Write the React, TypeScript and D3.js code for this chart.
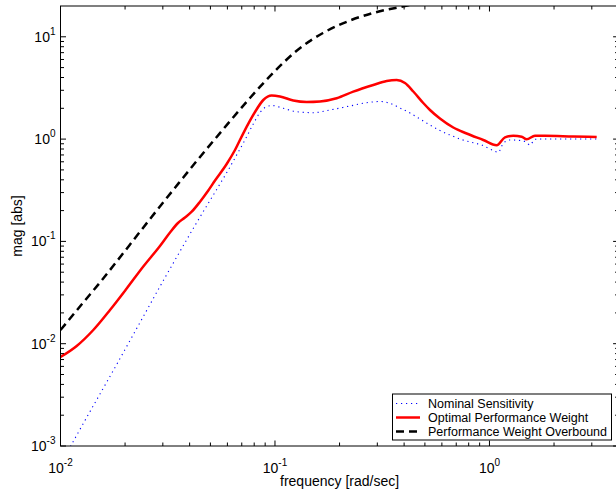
import React from 'react';
import * as d3 from 'd3';

// ---- data ----
const overboundFreq = [0.01, 0.01277, 0.01528, 0.01828, 0.02265, 0.02614, 0.03127, 0.03737, 0.04315, 0.05722, 0.07644, 0.1, 0.1266, 0.1674, 0.2237, 0.2863, 0.3827, 0.528, 0.7];
const overboundMag = [0.01361, 0.02527, 0.03964, 0.0636, 0.1129, 0.1656, 0.2656, 0.4213, 0.6108, 1.241, 2.522, 4.631, 7.347, 10.89, 14.43, 17.08, 19.56, 22.14, 23.5];

const optimalFreq = [0.01, 0.0119, 0.01422, 0.01701, 0.02035, 0.02432, 0.02909, 0.0324, 0.0353, 0.03805, 0.0409, 0.04472, 0.04887, 0.05253, 0.05954, 0.06509, 0.07114, 0.0807, 0.08821, 0.09652, 0.1055, 0.1217, 0.1405, 0.1621, 0.1939, 0.2317, 0.2872, 0.3317, 0.3693, 0.4037, 0.4414, 0.4913, 0.528, 0.5875, 0.6781, 0.7828, 0.9357, 1.08, 1.181, 1.291, 1.413, 1.491, 1.63, 1.814, 2.459, 3.162];
const optimalMag = [0.00741, 0.0095, 0.01361, 0.02135, 0.03464, 0.05683, 0.0902, 0.1222, 0.1513, 0.1713, 0.1951, 0.2444, 0.3145, 0.3937, 0.5709, 0.7824, 1.139, 1.84, 2.411, 2.668, 2.609, 2.384, 2.305, 2.331, 2.505, 2.907, 3.38, 3.698, 3.782, 3.535, 2.92, 2.254, 1.925, 1.59, 1.298, 1.134, 0.98, 0.8698, 1.041, 1.079, 1.056, 0.995, 1.079, 1.079, 1.06, 1.048];

const nominalFreq = [0.01, 0.01116, 0.013, 0.01528, 0.01795, 0.02109, 0.02477, 0.02909, 0.0342, 0.04016, 0.04472, 0.04977, 0.05539, 0.06037, 0.06509, 0.07245, 0.07921, 0.08514, 0.09078, 0.09683, 0.1093, 0.1263, 0.1509, 0.1805, 0.2237, 0.2677, 0.3087, 0.3437, 0.3827, 0.426, 0.4743, 0.528, 0.5875, 0.6545, 0.7287, 0.8114, 0.9196, 1.0416, 1.099, 1.16, 1.246, 1.413, 1.48, 1.545, 1.63, 1.814, 2.132, 3.162];
const nominalMag = [0.000667, 0.001, 0.001775, 0.003224, 0.005852, 0.01075, 0.01973, 0.03623, 0.0658, 0.1181, 0.1732, 0.2511, 0.364, 0.4932, 0.6535, 0.98, 1.405, 1.82, 2.06, 2.13, 2.0, 1.853, 1.812, 1.925, 2.107, 2.269, 2.331, 2.239, 2.014, 1.799, 1.572, 1.373, 1.214, 1.097, 1.002, 0.937, 0.876, 0.7738, 0.743, 0.91, 0.98, 0.965, 0.937, 0.876, 0.995, 1.002, 1.002, 1.002];

const xMajor = [0.01, 0.1, 1];
const xExp = ['-2', '-1', '0'];
const yMajor = [0.001, 0.01, 0.1, 1, 10];
const yExp = ['-3', '-2', '-1', '0', '1'];

const legendLabels = ['Nominal Sensitivity', 'Optimal Performance Weight', 'Performance Weight Overbound'];

// ---- layout ----
const W = 616, H = 491;
const L = 60.5, R = 618.6, T = 6, B = 446;
const FONT = 'Liberation Sans, Arial, Helvetica, sans-serif';

const x = d3.scaleLog().domain([0.01, 4]).range([L, R]);
const y = d3.scaleLog().domain([0.001, 20]).range([B, T]);

function minors(majors: number[], lo: number, hi: number) {
  const out: number[] = [];
  majors.forEach(m => {
    for (let k = 2; k <= 9; k++) {
      const v = m * k;
      if (v > lo && v < hi * 0.999) out.push(v);
    }
  });
  return out;
}

const xMinor = minors(xMajor, 0.01, 4);
const yMinor = minors(yMajor, 0.001, 20);

function pathFor(freq: number[], mag: number[]) {
  const line = d3.line<number>()
    .x((_, i) => x(freq[i]))
    .y(d => y(d))
    .curve(d3.curveMonotoneX);
  return line(mag) || '';
}

const styles = [
  { stroke: '#0000ff', width: 1.1, dash: '1.2,3.8' },
  { stroke: '#ff0000', width: 2.5, dash: undefined },
  { stroke: '#000000', width: 2.5, dash: '8,5' },
];

export default function App() {
  const series = [
    pathFor(nominalFreq, nominalMag),
    pathFor(optimalFreq, optimalMag),
    pathFor(overboundFreq, overboundMag),
  ];
  const MAJ = 5.5, MIN = 3.5;
  const lg = { x: 392.5, y: 394, w: 219, h: 46 };
  return (
    <svg width={W} height={H} style={{ position: 'absolute', left: 0, top: 0, background: '#fff' }}
      fontFamily={FONT}>
      <rect x={0} y={0} width={W} height={H} fill="#fff" />
      <defs>
        <clipPath id="plotclip">
          <rect x={L} y={T} width={R - L} height={B - T} />
        </clipPath>
      </defs>
      <g clipPath="url(#plotclip)" fill="none">
        {series.map((d, i) => (
          <path key={i} d={d} stroke={styles[i].stroke} strokeWidth={styles[i].width}
            strokeDasharray={styles[i].dash} strokeLinejoin="round" />
        ))}
      </g>
      {/* frame */}
      <rect x={L} y={T} width={R - L} height={B - T} fill="none" stroke="#000" strokeWidth={1} />
      {/* ticks */}
      <g stroke="#000" strokeWidth={1}>
        {xMajor.map(v => (
          <g key={'xM' + v}>
            <line x1={x(v)} x2={x(v)} y1={B} y2={B - MAJ} />
            <line x1={x(v)} x2={x(v)} y1={T} y2={T + MAJ} />
          </g>
        ))}
        {xMinor.map(v => (
          <g key={'xm' + v}>
            <line x1={x(v)} x2={x(v)} y1={B} y2={B - MIN} />
            <line x1={x(v)} x2={x(v)} y1={T} y2={T + MIN} />
          </g>
        ))}
        {yMajor.map(v => (
          <g key={'yM' + v}>
            <line x1={L} x2={L + MAJ} y1={y(v)} y2={y(v)} />
            <line x1={R} x2={R - MAJ} y1={y(v)} y2={y(v)} />
          </g>
        ))}
        {yMinor.map(v => (
          <g key={'ym' + v}>
            <line x1={L} x2={L + MIN} y1={y(v)} y2={y(v)} />
            <line x1={R} x2={R - MIN} y1={y(v)} y2={y(v)} />
          </g>
        ))}
      </g>
      {/* tick labels */}
      <g fill="#000" fontSize={14}>
        {xMajor.map((v, i) => (
          <text key={'xl' + v} x={x(v)} y={473} textAnchor="middle">
            10<tspan fontSize={10} dy={-7}>{xExp[i]}</tspan>
          </text>
        ))}
        {yMajor.map((v, i) => (
          <text key={'yl' + v} x={55.5} y={y(v) + 5} textAnchor="end">
            10<tspan fontSize={10} dy={-7}>{yExp[i]}</tspan>
          </text>
        ))}
      </g>
      {/* axis labels */}
      <text x={(L + R) / 2} y={486} textAnchor="middle" fontSize={14} fill="#000">frequency [rad/sec]</text>
      <text transform={`translate(22,${(T + B) / 2}) rotate(-90)`} textAnchor="middle" fontSize={14} fill="#000">mag [abs]</text>
      {/* legend */}
      <g>
        <rect x={lg.x} y={lg.y} width={lg.w} height={lg.h} fill="#fff" stroke="#000" strokeWidth={1} />
        {legendLabels.map((lab, i) => {
          const cy = 403.5 + i * 14;
          return (
            <g key={lab}>
              <line x1={396} x2={420} y1={cy} y2={cy} stroke={styles[i].stroke}
                strokeWidth={styles[i].width} strokeDasharray={styles[i].dash} />
              <text x={428} y={cy + 4.5} fontSize={12.5} fill="#000">{lab}</text>
            </g>
          );
        })}
      </g>
    </svg>
  );
}
